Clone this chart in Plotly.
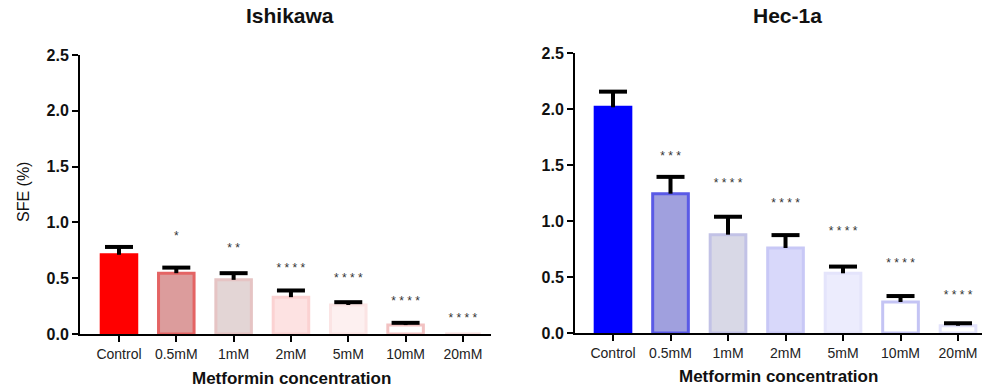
import plotly.graph_objects as go

W, H = 982, 389

categories = ["Control", "0.5mM", "1mM", "2mM", "5mM", "10mM", "20mM"]

# Ishikawa
ishikawa_mean = [0.71, 0.545, 0.485, 0.33, 0.26, 0.08, 0.0]
ishikawa_sd = [0.07, 0.05, 0.06, 0.06, 0.025, 0.02, 0.0]
ishikawa_sig = ["", "*", "**", "****", "****", "****", "****"]
ishikawa_sig_y = [None, 0.87, 0.76, 0.585, 0.495, 0.29, 0.137]

# Hec-1a
hec_mean = [2.015, 1.244, 0.878, 0.759, 0.533, 0.277, 0.065]
hec_sd = [0.14, 0.15, 0.16, 0.115, 0.06, 0.053, 0.022]
hec_sig = ["", "***", "****", "****", "****", "****", "****"]
hec_sig_y = [None, 1.574, 1.33, 1.152, 0.902, 0.616, 0.333]

yticks = [0.0, 0.5, 1.0, 1.5, 2.0, 2.5]

ishikawa_fill = ["#ff0000", "#dc9c9c", "#e3d5d5", "#fde2e2", "#fdf0f0", "#ffffff", "#ffffff"]
ishikawa_line = ["#ff0000", "#e46464", "#e6c4c4", "#fbd2d2", "#fbe4e4", "#f2c2c2", "#f6dede"]
hec_fill = ["#0000ff", "#a0a0de", "#d8d8e6", "#d8d8fa", "#ececfd", "#ffffff", "#ffffff"]
hec_line = ["#0000ff", "#5a5ae6", "#c2c2e6", "#c8c8f6", "#e4e4fb", "#c4c4f4", "#e2e2fb"]

FONT = "Arial, Liberation Sans, sans-serif"

fig = go.Figure()


def add_panel(xa, ya, mean, sd, sig, sig_y, fill, line):
    fig.add_trace(go.Bar(
        x=categories, y=mean, xaxis=xa, yaxis=ya,
        width=0.62,
        marker=dict(color=fill, line=dict(color=line, width=3)),
        error_y=dict(type="data", array=sd, arrayminus=[0] * len(sd),
                     symmetric=False, color="black", thickness=4, width=0),
        showlegend=False, hoverinfo="x+y",
    ))
    # caps of the error bars (at mean + sd), only where something is drawn
    tops = [(c, m + s) for c, m, s in zip(categories, mean, sd) if m + s > 0]
    fig.add_trace(go.Scatter(
        x=[c for c, _ in tops], y=[t for _, t in tops],
        mode="markers", xaxis=xa, yaxis=ya,
        marker=dict(symbol="line-ew", size=20, line=dict(color="black", width=4)),
        showlegend=False, hoverinfo="skip", cliponaxis=False,
    ))
    fig.add_trace(go.Scatter(
        x=[c for c, s in zip(categories, sig) if s],
        y=[v for v, s in zip(sig_y, sig) if s],
        text=[" ".join(s) for s in sig if s],
        mode="text", textposition="middle center",
        textfont=dict(family=FONT, size=12, color="#333333"),
        xaxis=xa, yaxis=ya, showlegend=False, hoverinfo="skip", cliponaxis=False,
    ))


add_panel("x", "y", ishikawa_mean, ishikawa_sd, ishikawa_sig, ishikawa_sig_y,
          ishikawa_fill, ishikawa_line)
add_panel("x2", "y2", hec_mean, hec_sd, hec_sig, hec_sig_y, hec_fill, hec_line)

xaxis_common = dict(
    type="category", categoryorder="array", categoryarray=categories,
    showline=True, linecolor="black", linewidth=2,
    ticks="outside", ticklen=6, tickwidth=2, tickcolor="black",
    tickfont=dict(family=FONT, size=14, color="#222222"),
    showgrid=False, zeroline=False, fixedrange=True, automargin=False,
)
yaxis_common = dict(
    range=[0, 2.5], tickvals=yticks, tickformat=".1f",
    showline=True, linecolor="black", linewidth=2,
    ticks="outside", ticklen=6, tickwidth=2, tickcolor="black",
    tickfont=dict(family=FONT, size=16, color="#111111", weight="bold"),
    showgrid=False, zeroline=False, fixedrange=True, automargin=False,
)

fig.update_layout(
    width=W, height=H,
    margin=dict(l=0, r=0, t=0, b=0, autoexpand=False),
    paper_bgcolor="white", plot_bgcolor="white",
    xaxis=dict(xaxis_common, domain=[80 / W, 491 / W], range=[-0.68, 6.49], anchor="y"),
    yaxis=dict(yaxis_common, domain=[1 - 334 / H, 1 - 55 / H], anchor="x"),
    xaxis2=dict(xaxis_common, domain=[575 / W, 1.0], range=[-0.661, 6.417], anchor="y2"),
    yaxis2=dict(yaxis_common, domain=[1 - 333 / H, 1 - 53 / H], anchor="x2"),
)

ann_common = dict(xref="paper", yref="paper", showarrow=False, xanchor="center", yanchor="middle")
fig.add_annotation(ann_common, text="Ishikawa", x=290 / W, y=1 - 16 / H,
                   font=dict(family=FONT, size=21, color="#111111", weight="bold"))
fig.add_annotation(ann_common, text="Hec-1a", x=787 / W, y=1 - 16 / H,
                   font=dict(family=FONT, size=21, color="#111111", weight="bold"))
fig.add_annotation(ann_common, text="Metformin concentration", x=291 / W, y=1 - 378 / H,
                   font=dict(family=FONT, size=17, color="#111111", weight="bold"))
fig.add_annotation(ann_common, text="Metformin concentration", x=778 / W, y=1 - 376 / H,
                   font=dict(family=FONT, size=17, color="#111111", weight="bold"))
fig.add_annotation(ann_common, text="SFE (%)", x=23 / W, y=1 - 192 / H, textangle=-90,
                   font=dict(family=FONT, size=16, color="#111111"))

fig.write_html(
    "out.html",
    config={"displayModeBar": False},
    post_script="document.body.style.margin='0';document.body.style.overflow='hidden';",
)
